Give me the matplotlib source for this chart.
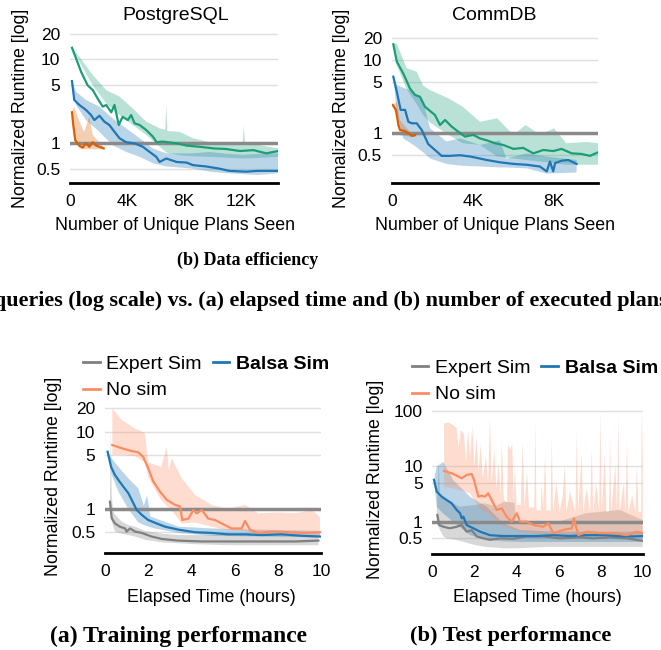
import numpy as np
import matplotlib
matplotlib.use("Agg")
import matplotlib.pyplot as plt
from matplotlib.lines import Line2D

# ---- data efficiency: PostgreSQL (x = unique plans seen) ----
pg_green_x = [140, 420, 780, 1240, 1600, 1950, 2300, 2550, 2900, 3130, 3430, 3700, 4070, 4300, 4540,
              4900, 5360, 5830, 6100, 6500, 7500, 8200, 9100, 10100, 11000, 11950, 12900, 13800, 14650]
pg_green_y = [13.7, 10.3, 7.1, 4.9, 4.3, 3.4, 2.73, 2.86, 2.34, 2.86, 1.65, 2.07, 1.89, 2.17, 1.73,
              1.65, 1.44, 1.2, 1.03, 1.05, 1.0, 0.94, 0.91, 0.87, 0.855, 0.81, 0.83, 0.76, 0.81]
pg_green_band_x = [140, 660, 1600, 2540, 3480, 4420, 5360, 6300, 6700, 6770, 6850, 7700, 8650, 9830,
                   12150, 12220, 12300, 13200, 14650]
pg_green_hi = [13.7, 10.7, 6.5, 4.3, 3.6, 2.6, 1.81, 1.51, 1.45, 2.86, 1.4, 1.37, 1.15, 1.03,
               1.0, 1.65, 1.0, 0.96, 0.87]
pg_green_lo = [13.7, 9.4, 4.9, 3.0, 2.17, 1.65, 1.26, 0.91, 0.8, 0.78, 0.77, 0.72, 0.70, 0.69,
               0.66, 0.66, 0.66, 0.67, 0.69]

pg_blue_x = [140, 300, 660, 1130, 1480, 1710, 2070, 2420, 2770, 3130, 3480, 3950, 4540, 5120, 5600,
             6070, 6300, 6770, 7500, 8200, 8650, 9600, 10500, 11200, 12400, 13200, 14650]
pg_blue_y = [5.5, 3.28, 2.86, 2.49, 2.17, 1.89, 2.13, 1.81, 1.65, 1.37, 1.15, 1.03, 1.0, 0.91, 0.79,
             0.69, 0.60, 0.66, 0.60, 0.59, 0.55, 0.53, 0.50, 0.47, 0.46, 0.47, 0.47]
pg_blue_band_x = [140, 420, 1130, 2070, 3000, 3950, 4900, 5830, 6770, 8650, 9830, 11000, 12200, 13200, 14650]
pg_blue_hi = [5.5, 4.1, 3.28, 2.73, 1.98, 1.51, 1.15, 0.87, 0.76, 0.76, 0.79, 0.75, 0.73, 0.75, 0.76]
pg_blue_lo = [5.5, 2.86, 1.89, 1.37, 0.95, 0.79, 0.69, 0.58, 0.53, 0.50, 0.46, 0.44, 0.43, 0.42, 0.44]

pg_orange_x = [140, 230, 370, 660, 890, 1130, 1360, 1600, 1830, 2070, 2370]
pg_orange_y = [2.34, 1.65, 1.09, 0.94, 0.89, 1.0, 0.91, 1.03, 0.94, 0.91, 0.87]
pg_orange_band_x = [140, 300, 660, 1000, 1360, 1600, 2370]
pg_orange_hi = [2.34, 2.7, 1.81, 1.37, 2.07, 1.26, 0.9]
pg_orange_lo = [2.34, 1.09, 0.87, 0.85, 0.85, 0.85, 0.85]

# ---- data efficiency: CommDB ----
cd_green_x = [80, 250, 570, 900, 1150, 1390, 1640, 1890, 2130, 2380, 2630, 2960, 3280, 3610, 4020,
              4350, 4680, 5090, 5500, 6000, 6480, 6980, 7470, 7960, 8370, 8870, 9360, 9770, 10180]
cd_green_y = [16.6, 9.6, 6.6, 4.1, 3.35, 3.17, 2.31, 2.02, 1.78, 1.30, 1.52, 1.23, 1.05, 0.90, 0.95,
              0.85, 0.80, 0.73, 0.69, 0.61, 0.63, 0.53, 0.59, 0.57, 0.61, 0.53, 0.52, 0.49, 0.55]
cd_green_band_x = [80, 250, 740, 1230, 1550, 1890, 2800, 3500, 4350, 5200, 6000, 6600, 7300, 8000,
                   8600, 9600, 10180]
cd_green_hi = [16.6, 17.0, 7.8, 7.0, 4.5, 3.9, 3.0, 2.31, 1.44, 1.6, 0.95, 1.30, 0.95, 1.17, 0.73, 0.76, 0.73]
cd_green_lo = [16.6, 8.6, 4.0, 2.5, 1.78, 1.4, 0.95, 0.73, 0.69, 0.48, 0.45, 0.43, 0.41, 0.39, 0.37, 0.37, 0.37]

cd_blue_x = [80, 250, 440, 660, 820, 990, 1230, 1480, 1800, 2130, 2460, 2870, 3360, 3860, 4350, 4680,
             5330, 6000, 6650, 7300, 7640, 7800, 7960, 8050, 8370, 8700, 9110]
cd_blue_y = [5.96, 3.72, 2.09, 2.09, 1.44, 1.37, 1.37, 1.11, 0.71, 0.59, 0.49, 0.49, 0.50, 0.48, 0.45,
             0.43, 0.40, 0.38, 0.37, 0.35, 0.30, 0.41, 0.30, 0.39, 0.42, 0.43, 0.38]
cd_blue_band_x = [80, 250, 570, 1070, 1550, 1890, 2700, 3360, 4350, 5330, 5650, 6650, 7640, 9110]
cd_blue_hi = [5.96, 4.6, 4.2, 3.72, 2.71, 1.17, 0.77, 0.85, 0.69, 0.80, 0.45, 0.53, 0.48, 0.43]
cd_blue_lo = [5.96, 1.98, 0.85, 0.69, 0.55, 0.45, 0.38, 0.36, 0.35, 0.34, 0.34, 0.33, 0.28, 0.29]

cd_orange_x = [50, 210, 330, 410, 660, 820, 990, 1150]
cd_orange_y = [2.44, 2.09, 1.30, 1.11, 1.07, 1.0, 0.92, 0.94]
cd_orange_band_x = [50, 250, 410, 900, 1150]
cd_orange_hi = [2.44, 2.71, 1.5, 1.05, 1.0]
cd_orange_lo = [2.44, 1.6, 0.94, 0.9, 0.9]

# ---- training performance (hours) ----
tr_gray_x = [0.23, 0.31, 0.46, 0.69, 0.93, 1.0, 1.16, 1.39, 1.7, 2.16, 2.62, 3.4, 4.48, 5.7, 7.25, 8.8, 9.88]
tr_gray_y = [1.24, 0.76, 0.65, 0.59, 0.56, 0.51, 0.56, 0.51, 0.49, 0.44, 0.41, 0.39, 0.38, 0.38, 0.38, 0.38, 0.39]
tr_gray_band_x = [0.23, 0.27, 0.31, 0.38, 0.46, 0.77, 1.08, 1.39, 1.85, 2.62, 3.4, 4.2, 5.7, 9.88]
tr_gray_hi = [1.52, 11, 1.5, 0.92, 0.85, 0.69, 0.62, 0.59, 0.52, 0.48, 0.46, 0.46, 0.46, 0.46]
tr_gray_lo = [1.0, 0.9, 0.7, 0.6, 0.51, 0.48, 0.46, 0.44, 0.40, 0.37, 0.36, 0.35, 0.34, 0.34]

tr_blue_x = [0.12, 0.28, 0.46, 0.62, 0.85, 1.08, 1.31, 1.47, 1.7, 2.0, 2.39, 2.78, 3.4, 4.17, 4.94,
             5.7, 6.48, 7.25, 8.18, 9.1, 9.95]
tr_blue_y = [5.5, 3.5, 2.75, 2.37, 1.94, 1.6, 1.19, 0.97, 0.84, 0.72, 0.65, 0.59, 0.54, 0.50, 0.49,
             0.47, 0.47, 0.46, 0.47, 0.45, 0.44]
tr_blue_band_x = [0.12, 0.31, 0.62, 1.08, 1.54, 1.8, 1.95, 2.1, 2.31, 3.4, 4.94, 7.25, 9.95]
tr_blue_hi = [5.5, 4.5, 3.5, 2.49, 1.85, 1.1, 1.5, 0.8, 0.76, 0.59, 0.56, 0.54, 0.52]
tr_blue_lo = [5.5, 2.75, 1.67, 1.0, 0.67, 0.62, 0.6, 0.58, 0.56, 0.49, 0.45, 0.44, 0.43]

tr_orange_x = [0.34, 0.77, 1.24, 1.54, 1.77, 2.0, 2.24, 2.55, 2.86, 3.24, 3.47, 3.58, 3.86, 4.09,
               4.24, 4.48, 4.78, 5.09, 5.4, 5.86, 6.33, 6.48, 6.71, 7.1, 7.72, 8.49, 9.26, 9.95]
tr_orange_y = [6.7, 6.1, 5.6, 5.4, 4.7, 3.36, 2.25, 1.67, 1.31, 1.13, 1.08, 0.72, 0.75, 0.97,
               0.88, 0.97, 0.75, 0.72, 0.65, 0.56, 0.56, 0.70, 0.54, 0.49, 0.51, 0.50, 0.49, 0.50]
tr_orange_band_x = [0.34, 0.77, 1.39, 1.85, 2.0, 2.6, 2.86, 2.95, 3.1, 3.55, 4.17, 4.94, 5.7, 6.48,
                    7.1, 8.0, 8.8, 9.6, 9.95]
tr_orange_hi = [20, 14.1, 11, 9.5, 4.0, 3.5, 6.4, 3.2, 4.5, 2.49, 1.52, 1.13, 1.0, 1.13, 0.88, 0.9, 0.88, 0.97, 0.78]
tr_orange_lo = [5.0, 5.0, 4.8, 4.0, 2.6, 1.3, 1.1, 1.05, 0.95, 0.65, 0.67, 0.59, 0.53, 0.52, 0.46, 0.46, 0.45, 0.45, 0.45]

# ---- test performance (hours) ----
te_gray_x = [0.24, 0.33, 0.52, 0.84, 1.16, 1.40, 1.63, 1.87, 2.11, 2.42, 2.74, 3.22, 3.85, 4.49, 5.28,
             6.07, 7.02, 7.65, 8.45, 9.24, 10.0]
te_gray_y = [1.32, 0.87, 0.81, 0.76, 0.81, 0.87, 0.66, 0.70, 0.54, 0.50, 0.47, 0.50, 0.49, 0.54, 0.54,
             0.50, 0.52, 0.50, 0.52, 0.50, 0.45]
te_gray_band_x = [0.21, 0.3, 0.37, 0.52, 0.68, 1.3, 2.0, 2.5, 3.0, 3.4, 3.9, 4.0, 5.5, 7.3, 8.9, 10.0]
te_gray_hi = [1.42, 13, 3.0, 2.6, 2.47, 1.87, 2.0, 2.15, 1.9, 2.3, 2.2, 0.97, 0.87, 1.42, 1.63, 1.07]
te_gray_lo = [0.93, 0.8, 0.7, 0.54, 0.5, 0.45, 0.38, 0.35, 0.34, 0.33, 0.33, 0.33, 0.35, 0.35, 0.35, 0.35]

te_blue_x = [0.08, 0.21, 0.45, 0.68, 0.92, 1.16, 1.32, 1.40, 1.48, 1.63, 1.95, 2.27, 2.74, 3.37, 4.17,
             4.96, 5.75, 6.54, 7.34, 8.13, 8.92, 9.55, 10.0]
te_blue_y = [5.7, 3.5, 2.83, 2.47, 2.15, 1.63, 1.42, 1.15, 1.23, 0.87, 0.76, 0.66, 0.57, 0.55, 0.55,
             0.55, 0.57, 0.55, 0.57, 0.57, 0.55, 0.54, 0.55]
te_blue_band_x = [0.08, 0.21, 0.52, 0.99, 1.79, 2.58, 3.37, 4.17, 5.75, 7.34, 10.0]
te_blue_hi = [5.7, 9.9, 12, 5.7, 2.83, 1.87, 0.94, 0.71, 0.66, 0.66, 0.66]
te_blue_lo = [5.7, 1.87, 1.4, 1.0, 0.57, 0.47, 0.44, 0.43, 0.43, 0.43, 0.43]

te_orange_x = [0.56, 1.0, 1.40, 1.63, 1.87, 1.98, 2.19, 2.35, 2.5, 2.66, 2.82, 3.06, 3.3, 3.54, 3.77,
               4.01, 4.17, 4.49, 4.8, 5.28, 5.51, 5.75, 6.23, 6.63, 6.73, 6.94, 7.34, 7.97, 8.6, 9.24,
               9.71, 10.0]
te_orange_y = [8.3, 7.3, 6.1, 7.0, 7.3, 5.7, 2.83, 2.95, 2.83, 3.26, 2.47, 1.63, 1.74, 1.23, 1.0,
               1.42, 1.0, 1.0, 0.87, 0.81, 0.94, 0.62, 0.71, 0.76, 1.15, 0.57, 0.66, 0.62, 0.62, 0.57,
               0.66, 0.62]
te_orange_hi_x = [0.56, 0.8, 1.0, 1.15, 1.25, 1.35, 1.5, 1.6, 1.7, 1.8, 1.9, 2.0, 2.1, 2.2, 2.3, 2.4,
                  2.55, 2.65, 2.74, 2.82, 2.95, 3.05, 3.15, 3.25, 3.3, 3.4, 3.55, 3.6, 3.7, 3.8, 3.87,
                  3.93, 4.0, 4.2, 4.3, 4.38, 4.5, 4.6, 4.85, 4.9, 4.95, 5.15, 5.2, 5.27, 5.36, 5.43,
                  5.62, 5.68, 5.74, 5.9, 6.05, 6.2, 6.3, 6.37, 6.55, 6.8, 6.87, 6.93, 7.1, 7.17, 7.34,
                  7.5, 7.58, 7.65, 7.8, 7.93, 7.99, 8.05, 8.2, 8.27, 8.4, 8.45, 8.5, 8.7, 8.78, 8.84,
                  8.9, 9.1, 9.18, 9.25, 9.32, 9.5, 9.65, 9.72, 9.8, 9.92, 9.96, 10.0]
te_orange_hi = [60, 62, 55, 50, 22, 45, 40, 12, 45, 15, 55, 10, 35, 8, 25, 6,
                15, 5, 74, 5, 20, 4, 12, 3, 28, 2.5, 2.2, 25, 20, 25, 2.2,
                10.6, 2.0, 2.0, 28, 1.8, 8, 1.8, 1.8, 64, 1.6, 1.6, 5, 1.6, 16, 1.6,
                1.6, 32, 1.5, 5, 1.5, 3, 10.6, 1.5, 3.5, 1.5, 42, 1.5, 16, 1.5, 4,
                1.5, 21, 1.5, 5, 1.5, 98, 1.5, 16, 1.5, 1.5, 37, 1.5, 10.6, 1.5, 85,
                1.5, 5, 1.5, 28, 1.5, 3, 1.5, 10.6, 1.5, 1.5, 98, 20]
te_orange_lo_x = [0.56, 1.0, 1.8, 2.2, 2.6, 3.4, 4.2, 5.75, 7.3, 10.0]
te_orange_lo = [4.3, 4.0, 3.26, 1.8, 1.42, 0.81, 0.66, 0.54, 0.54, 0.54]

GREEN = "#1b9e77"
BLUE = "#1f77b4"
DORANGE = "#d95f02"
CORAL = "#fc8d62"
GRAY = "#808080"

W, H = 661, 650
plt.rcParams["font.family"] = ["Liberation Sans", "DejaVu Sans"]
fig = plt.figure(figsize=(W / 100, H / 100), dpi=100)


def add_ax(l, t, r, b):
    return fig.add_axes([l / W, 1 - b / H, (r - l) / W, (b - t) / H])


def ftext(x, y, s, **kw):
    fig.text(x / W, 1 - y / H, s, **kw)


def band(ax, hx, hi, lx, lo, color, alpha=0.3):
    ax.fill(np.r_[hx, lx[::-1]], np.r_[hi, lo[::-1]], color=color, alpha=alpha, lw=0, zorder=1)


def style(ax, ylim, yticks, xlim, xticks, xlabels):
    ax.set_yscale("log")
    ax.set_ylim(*ylim)
    ax.set_xlim(*xlim)
    ax.set_yticks(yticks)
    ax.set_yticklabels([("%g" % v) for v in yticks])
    ax.yaxis.set_minor_locator(matplotlib.ticker.NullLocator())
    ax.set_xticks(xticks)
    ax.set_xticklabels(xlabels)
    for sp in ["left", "right", "top"]:
        ax.spines[sp].set_visible(False)
    ax.spines["bottom"].set_linewidth(2)
    ax.spines["bottom"].set_color("black")
    ax.tick_params(length=0, labelsize=12.5, pad=7)
    ax.tick_params(axis="x", pad=8)
    ax.grid(axis="y", color="#e0e0e0", lw=1)
    ax.set_axisbelow(True)
    ax.axhline(1, color="#8a8a8a", lw=2.5, zorder=2)


# PostgreSQL
ax1 = add_ax(70, 21.7, 278.3, 182.7)
band(ax1, pg_green_band_x, pg_green_hi, pg_green_band_x, pg_green_lo, GREEN)
band(ax1, pg_blue_band_x, pg_blue_hi, pg_blue_band_x, pg_blue_lo, BLUE)
band(ax1, pg_orange_band_x, pg_orange_hi, pg_orange_band_x, pg_orange_lo, DORANGE)
ax1.plot(pg_green_x, pg_green_y, color=GREEN, lw=1.6, zorder=3)
ax1.plot(pg_blue_x, pg_blue_y, color=BLUE, lw=1.6, zorder=3)
ax1.plot(pg_orange_x, pg_orange_y, color=DORANGE, lw=1.6, zorder=3)
style(ax1, (0.34, 28), [0.5, 1, 5, 10, 20], (0, 14650), [0, 4000, 8000, 12000], ["0", "4K", "8K", "12K"])

# CommDB
ax2 = add_ax(391.7, 25.5, 598.3, 182.7)
band(ax2, cd_green_band_x, cd_green_hi, cd_green_band_x, cd_green_lo, GREEN)
band(ax2, cd_blue_band_x, cd_blue_hi, cd_blue_band_x, cd_blue_lo, BLUE)
band(ax2, cd_orange_band_x, cd_orange_hi, cd_orange_band_x, cd_orange_lo, DORANGE)
ax2.plot(cd_green_x, cd_green_y, color=GREEN, lw=1.6, zorder=3)
ax2.plot(cd_blue_x, cd_blue_y, color=BLUE, lw=1.6, zorder=3)
ax2.plot(cd_orange_x, cd_orange_y, color=DORANGE, lw=1.6, zorder=3)
style(ax2, (0.21, 30), [0.5, 1, 5, 10, 20], (0, 10180), [0, 4000, 8000], ["0", "4K", "8K"])

# Training
ax3 = add_ax(105, 397, 321, 552.7)
band(ax3, tr_gray_band_x, tr_gray_hi, tr_gray_band_x, tr_gray_lo, GRAY)
band(ax3, tr_blue_band_x, tr_blue_hi, tr_blue_band_x, tr_blue_lo, BLUE)
band(ax3, tr_orange_band_x, tr_orange_hi, tr_orange_band_x, tr_orange_lo, CORAL)
ax3.plot(tr_gray_x, tr_gray_y, color=GRAY, lw=1.6, zorder=3)
ax3.plot(tr_blue_x, tr_blue_y, color=BLUE, lw=1.6, zorder=3)
ax3.plot(tr_orange_x, tr_orange_y, color=CORAL, lw=1.6, zorder=3)
style(ax3, (0.272, 28), [0.5, 1, 5, 10, 20], (0, 10), [0, 2, 4, 6, 8, 10], ["0", "2", "4", "6", "8", "10"])

# Test
ax4 = add_ax(432.3, 404.8, 642.7, 554.3)
band(ax4, te_gray_band_x, te_gray_hi, te_gray_band_x, te_gray_lo, GRAY)
band(ax4, te_blue_band_x, te_blue_hi, te_blue_band_x, te_blue_lo, BLUE)
band(ax4, te_orange_hi_x, te_orange_hi, te_orange_lo_x, te_orange_lo, CORAL)
ax4.plot(te_gray_x, te_gray_y, color=GRAY, lw=1.6, zorder=3)
ax4.plot(te_blue_x, te_blue_y, color=BLUE, lw=1.6, zorder=3)
ax4.plot(te_orange_x, te_orange_y, color=CORAL, lw=1.6, zorder=3)
style(ax4, (0.257, 130), [0.5, 1, 5, 10, 100], (0, 10), [0, 2, 4, 6, 8, 10], ["0", "2", "4", "6", "8", "10"])

# legends
for ax, lx, ly in [(ax3, 83, 355.5), (ax4, 411.7, 359.5)]:
    handles = [Line2D([], [], color=GRAY, lw=2), Line2D([], [], color=CORAL, lw=2),
               Line2D([], [], color=BLUE, lw=2)]
    leg = fig.legend(handles, ["Expert Sim", "No sim", "Balsa Sim"], ncol=2, frameon=False,
                     loc="upper left", bbox_to_anchor=(lx / W, 1 - ly / H), borderpad=0,
                     borderaxespad=0, handlelength=0.85, handletextpad=0.35, columnspacing=0.55,
                     labelspacing=0.45, fontsize=14)
    leg.get_texts()[2].set_fontweight("bold")

# titles and labels
ftext(175.5, 15, "PostgreSQL", fontsize=14, ha="center", va="center")
ftext(494, 15, "CommDB", fontsize=14, ha="center", va="center")
ftext(175, 225, "Number of Unique Plans Seen", fontsize=12.8, ha="center", va="center")
ftext(495, 225, "Number of Unique Plans Seen", fontsize=12.8, ha="center", va="center")
ftext(211, 597, "Elapsed Time (hours)", fontsize=12.8, ha="center", va="center")
ftext(537.5, 597, "Elapsed Time (hours)", fontsize=12.8, ha="center", va="center")
for x, y in [(21, 108.5), (341.7, 108.5), (53, 476.7), (376, 479)]:
    ftext(x, y, "Normalized Runtime [log]", fontsize=12.8, ha="center", va="center", rotation=90)

serif = ["Liberation Serif", "DejaVu Serif"]
ftext(247.5, 260, "(b) Data efficiency", fontsize=13, ha="center", va="center",
      family=serif, fontweight="bold")
# the page caption is cut at both edges in the source crop
ftext(331, 301.5, "queries (log scale) vs. (a) elapsed time and (b) number of executed plans",
      fontsize=15.8, ha="center", va="center", family=serif, fontweight="bold")
ftext(179, 636, "(a) Training performance", fontsize=17, ha="center", va="center",
      family=serif, fontweight="bold")
ftext(511, 636, "(b) Test performance", fontsize=16.2, ha="center", va="center",
      family=serif, fontweight="bold")

fig.savefig("out.png", dpi=100)
